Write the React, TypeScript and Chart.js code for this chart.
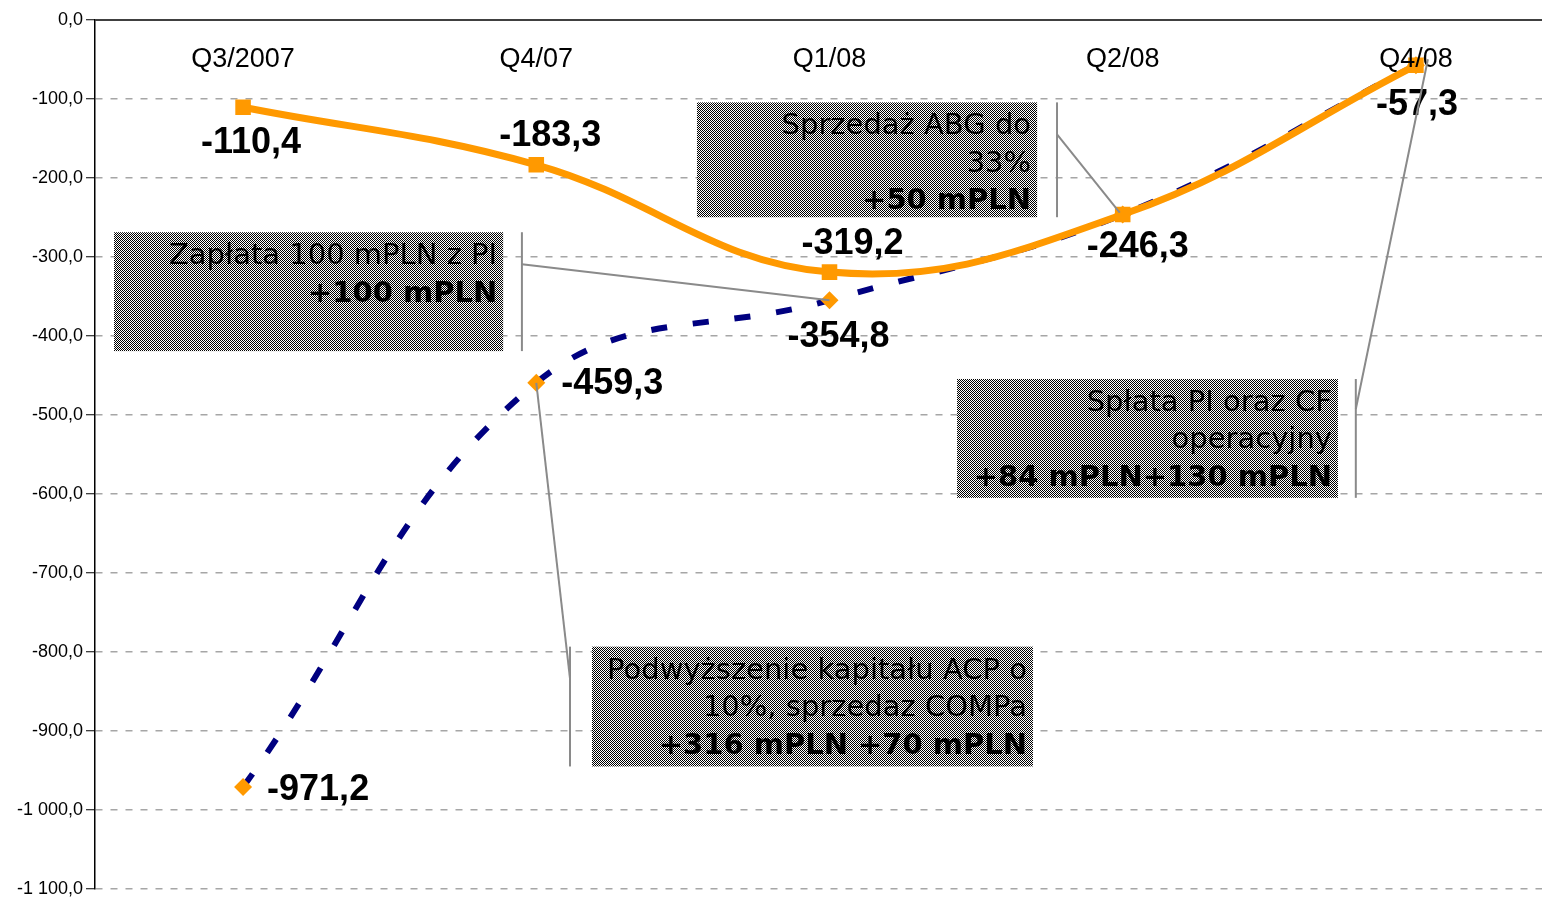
import React, { useEffect, useRef } from 'react';
import { Chart, registerables } from 'chart.js';

Chart.register(...registerables);

// ---------- data ----------
const categories = ['Q3/2007', 'Q4/07', 'Q1/08', 'Q2/08', 'Q4/08'];
const debtAfter = [-110.4, -183.3, -319.2, -246.3, -57.3];
const debtBefore = [-971.2, -459.3, -354.8, -246.3, -57.3];
const labelBefore = [true, true, true, false, false];
const yMin = -1100;
const yMax = 0;
const yStep = 100;

const calloutTexts: string[][] = [
  ['Zapłata 100 mPLN z PI', '+100 mPLN'],
  ['Sprzedaż ABG do', '33%', '+50 mPLN'],
  ['Spłata PI oraz CF', 'operacyjny', '+84 mPLN+130 mPLN'],
  ['Podwyższenie kapitału ACP o', '10%, sprzedaz COMPa', '+316 mPLN +70 mPLN'],
];

// ---------- layout / style (not data) ----------
const afterLabelOffsets = [
  { dx: 8, dy: 36 },
  { dx: 14, dy: -29 },
  { dx: 23, dy: -28 },
  { dx: 15, dy: 33 },
  { dx: 1, dy: 40 },
];
const beforeLabelOffsets = [
  { dx: 24, dy: 3, align: 'left' },
  { dx: 25, dy: 1, align: 'left' },
  { dx: 9, dy: 37, align: 'center' },
  { dx: 0, dy: 0, align: 'center' },
  { dx: 0, dy: 0, align: 'center' },
];
// box geometry in axis units (x: category index, y: value)
const calloutLayout = [
  { x0: -0.44, x1: 0.887, yTop: -268.7, yBot: -419.2, bx: 0.951, ly: -309.1, series: 1, index: 2, tdx: 0, tdy: 0 },
  { x0: 1.548, x1: 2.708, yTop: -104.3, yBot: -249.7, bx: 2.776, ly: -144.8, series: 0, index: 3, tdx: -3, tdy: -2 },
  { x0: 2.435, x1: 3.734, yTop: -454.5, yBot: -605, bx: 3.795, ly: -492.5, series: 0, index: 4, tdx: 12, tdy: -6 },
  { x0: 1.19, x1: 2.694, yTop: -793.4, yBot: -945.1, bx: 1.115, ly: -833.8, series: 1, index: 1, tdx: 0, tdy: 0 },
];

const ORANGE = '#FF9900';
const NAVY = '#000080';
const SANS = '"Liberation Sans", Arial, sans-serif';
const VERD = '"DejaVu Sans", Verdana, sans-serif';

function fmtPl(v: number): string {
  const neg = v < 0;
  const parts = Math.abs(v).toFixed(1).split('.');
  const int = parts[0].replace(/\B(?=(\d{3})+(?!\d))/g, ' ');
  return (neg ? '-' : '') + int + ',' + parts[1];
}

let patternCache: CanvasPattern | null = null;
function getPattern(ctx: CanvasRenderingContext2D): CanvasPattern | string {
  if (patternCache) return patternCache;
  const c = document.createElement('canvas');
  c.width = 2;
  c.height = 2;
  const p = c.getContext('2d')!;
  p.fillStyle = '#ffffff';
  p.fillRect(0, 0, 2, 2);
  p.fillStyle = '#000000';
  p.fillRect(0, 0, 1, 1);
  p.fillRect(1, 1, 1, 1);
  const pat = ctx.createPattern(c, 'repeat');
  patternCache = pat;
  return pat || '#808080';
}

const overlayPlugin = {
  id: 'overlay',
  afterDatasetsDraw(chart: any) {
    const { ctx, chartArea } = chart;
    const xs = chart.scales.x;
    const ys = chart.scales.y;
    ctx.save();

    // top axis line at 0
    const y0 = ys.getPixelForValue(0);
    ctx.strokeStyle = '#404040';
    ctx.lineWidth = 2;
    ctx.beginPath();
    ctx.moveTo(chartArea.left, y0);
    ctx.lineTo(chartArea.right, y0);
    ctx.stroke();

    // category labels
    ctx.fillStyle = '#000';
    ctx.font = `27px ${SANS}`;
    ctx.textAlign = 'center';
    ctx.textBaseline = 'middle';
    categories.forEach((c, i) => {
      ctx.fillText(c, xs.getPixelForValue(i), y0 + 40);
    });

    // data labels
    ctx.font = `bold 36px ${SANS}`;
    const metaA = chart.getDatasetMeta(0);
    const metaB = chart.getDatasetMeta(1);
    debtAfter.forEach((v, i) => {
      const pt = metaA.data[i];
      const o = afterLabelOffsets[i];
      ctx.textAlign = 'center';
      ctx.fillText(fmtPl(v), pt.x + o.dx, pt.y + o.dy);
    });
    debtBefore.forEach((v, i) => {
      if (!labelBefore[i]) return;
      const pt = metaB.data[i];
      const o = beforeLabelOffsets[i];
      ctx.textAlign = o.align as CanvasTextAlign;
      ctx.fillText(fmtPl(v), pt.x + o.dx, pt.y + o.dy);
    });

    // callouts
    const pat = getPattern(ctx);
    calloutLayout.forEach((b, k) => {
      const left = xs.getPixelForValue(b.x0);
      const right = xs.getPixelForValue(b.x1);
      const top = ys.getPixelForValue(b.yTop);
      const bot = ys.getPixelForValue(b.yBot);
      ctx.fillStyle = pat;
      ctx.fillRect(left, top, right - left, bot - top);
      const lines = calloutTexts[k];
      ctx.fillStyle = '#000';
      ctx.textAlign = 'right';
      ctx.textBaseline = 'alphabetic';
      lines.forEach((t, li) => {
        const bold = li === lines.length - 1;
        ctx.font = `${bold ? 'bold ' : ''}29px ${VERD}`;
        ctx.fillText(t, right - 6, top + 32 + li * 37.5);
      });
      // bracket + leader
      const bxp = xs.getPixelForValue(b.bx);
      const lyp = ys.getPixelForValue(b.ly);
      const meta = chart.getDatasetMeta(b.series);
      const tp = meta.data[b.index];
      ctx.strokeStyle = '#8a8a8a';
      ctx.lineWidth = 2;
      ctx.beginPath();
      ctx.moveTo(bxp, top);
      ctx.lineTo(bxp, bot);
      ctx.stroke();
      ctx.beginPath();
      ctx.moveTo(bxp, lyp);
      ctx.lineTo(tp.x + b.tdx, tp.y + b.tdy);
      ctx.stroke();
    });

    ctx.restore();
  },
};

export default function App() {
  const ref = useRef<HTMLCanvasElement | null>(null);
  useEffect(() => {
    if (!ref.current) return;
    document.body.style.margin = '0';
    const chart = new Chart(ref.current, {
      type: 'line',
      data: {
        datasets: [
          {
            label: 'after',
            data: debtAfter.map((v, i) => ({ x: i, y: v })),
            borderColor: ORANGE,
            backgroundColor: ORANGE,
            borderWidth: 7,
            tension: 0.4,
            pointStyle: 'rect',
            pointRadius: 11,
            pointBorderWidth: 0,
            pointBackgroundColor: ORANGE,
          },
          {
            label: 'before',
            data: debtBefore.map((v, i) => ({ x: i, y: v })),
            borderColor: NAVY,
            backgroundColor: ORANGE,
            borderWidth: 6,
            borderDash: [16, 26],
            borderCapStyle: 'butt',
            tension: 0.4,
            pointStyle: 'rectRot',
            pointRadius: 9,
            pointBorderWidth: 0,
            pointBackgroundColor: ORANGE,
          },
        ],
      },
      options: {
        responsive: false,
        animation: false,
        devicePixelRatio: 1,
        layout: { autoPadding: false, padding: { top: 20, right: 0, bottom: 9, left: 0 } },
        plugins: { legend: { display: false }, tooltip: { enabled: false } },
        scales: {
          x: {
            type: 'linear',
            display: false,
            min: -0.505,
            max: 4.43,
          },
          y: {
            type: 'linear',
            min: yMin,
            max: yMax,
            afterFit: (s: any) => {
              s.width = 95;
            },
            ticks: {
              stepSize: yStep,
              autoSkip: false,
              padding: 3,
              color: '#000',
              font: { family: SANS, size: 18, lineHeight: 0.8 },
              callback: (v: any) => fmtPl(Number(v)),
            },
            grid: {
              color: (c: any) => (c.tick && c.tick.value === 0 ? 'rgba(0,0,0,0)' : '#a6a6a6'),
              lineWidth: 1.5,
              tickLength: 9,
              tickColor: '#000',
              tickWidth: 1,
            },
            border: { display: true, color: '#000', width: 1.5, dash: [7, 8] },
          },
        },
      },
      plugins: [overlayPlugin],
    });
    return () => chart.destroy();
  }, []);
  return (
    <div style={{ position: 'fixed', left: 0, top: 0, width: 1542, height: 899, background: '#fff' }}>
      <canvas ref={ref} width={1542} height={899} />
    </div>
  );
}
